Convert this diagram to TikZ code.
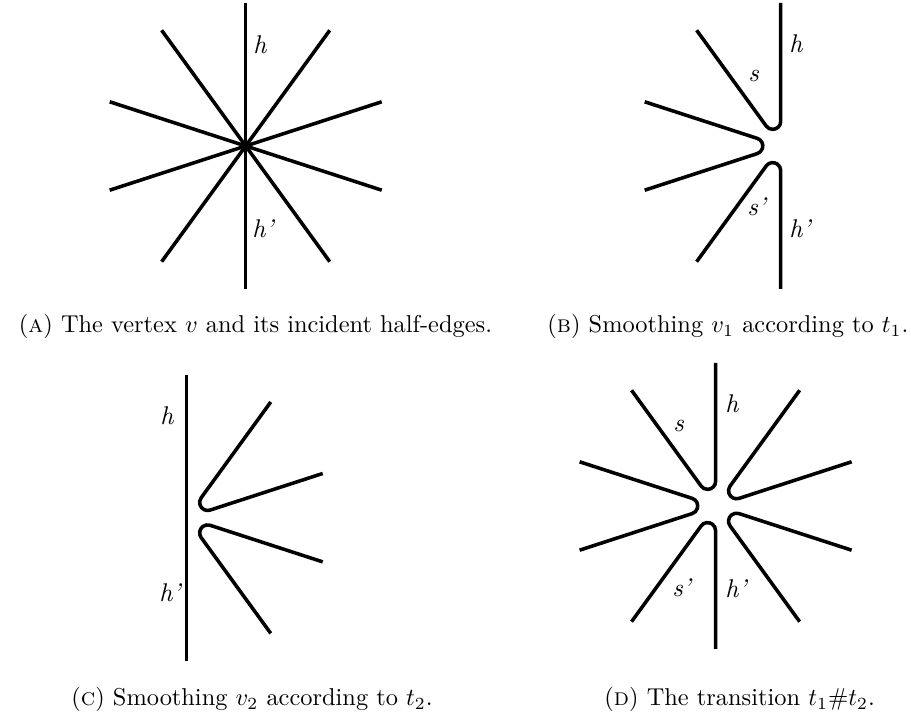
\documentclass[tikz,border=0pt]{standalone}
\usepackage{fontspec}
\tikzset{
  edge/.style={line width=1.45pt, black},
  lbl/.style={font=\rmfamily\itshape\fontsize{10.5}{12}\selectfont, inner sep=0pt, anchor=base west},
  captext/.style={font=\normalsize, inner sep=0pt, anchor=base west}
}
\newcommand\fullray[1]{\draw[edge] (#1:143) -- (#1+180:143);}
\newcommand\hairpin[1]{\draw[edge] (#1:143) -- (#1:24.62) arc[start angle=#1-90, delta angle=-144, radius=3.28pt] -- (#1+36:143);}
\begin{document}
\begin{tikzpicture}[x=0.41pt, y=0.41pt]
\useasboundingbox (0,0) rectangle (911,717);
% Panel A
\begin{scope}[shift={(245.7,571)}]
  \foreach \a in {90,126,162,198,234} {\fullray{\a}}
\end{scope}
\node[lbl] (Ah) at (253,663) {h};
\node[lbl] (Ahp) at (252,479) {h’};
% Panel B
\begin{scope}[shift={(780.7,571)}]
  \hairpin{90}
  \hairpin{162}
  \hairpin{234}
\end{scope}
\node[lbl] (Bh) at (789,664) {h};
\node[lbl] (Bs) at (748,635) {s};
\node[lbl] (Bsp) at (747,501) {s’};
\node[lbl] (Bhp) at (789,479) {h’};
% Panel C
\begin{scope}[shift={(186.7,199.3)}]
  \draw[edge] (90:143) -- (270:143);
  \hairpin{18}
  \hairpin{-54}
\end{scope}
\node[lbl] (Ch) at (160,292) {h};
\node[lbl] (Chp) at (159,115) {h’};
% Panel D
\begin{scope}[shift={(715.6,211)}]
  \hairpin{90}
  \hairpin{162}
  \hairpin{234}
  \hairpin{18}
  \hairpin{-54}
\end{scope}
\node[lbl] (Dh) at (725,304) {h};
\node[lbl] (Ds) at (673,285.3) {s};
\node[lbl] (Dsp) at (672,120.3) {s’};
\node[lbl] (Dhp) at (725,119) {h’};
% Captions
\node[captext] (capA) at (18.5,384) {(\textsc{a}) The vertex $v$ and its incident half-edges.};
\node[captext] (capB) at (547,384) {(\textsc{b}) Smoothing $v_1$ according to $t_1$.};
\node[captext] (capC) at (71,11) {(\textsc{c}) Smoothing $v_2$ according to $t_2$.};
\node[captext] (capD) at (604,11) {(\textsc{d}) The transition $t_1\#t_2$.};
\end{tikzpicture}
\end{document}
